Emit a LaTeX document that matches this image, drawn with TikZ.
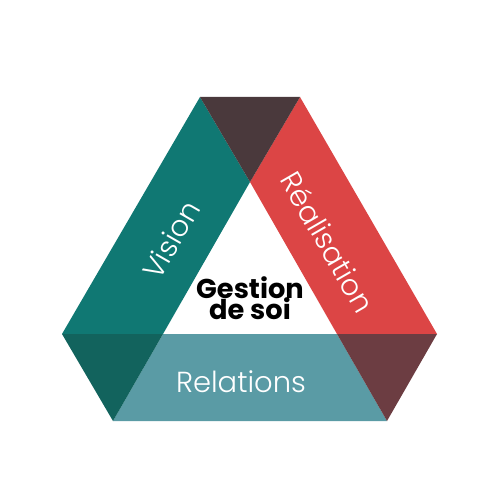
\documentclass[tikz,border=0pt]{standalone}
\usepackage{fontspec}
\setmainfont{Poppins}
\newfontfamily\thinfont{Poppins Light}
\definecolor{gTop}{HTML}{4A393C}
\definecolor{gTeal}{HTML}{107873}
\definecolor{gRed}{HTML}{DC4545}
\definecolor{gDeepTeal}{HTML}{12635D}
\definecolor{gSky}{HTML}{5A9BA5}
\definecolor{gWine}{HTML}{6C3D42}
\usetikzlibrary{positioning}

\begin{document}
\begin{tikzpicture}[x=0.02cm, y=-0.02cm,
  band/.style={text=white, font=\thinfont\fontsize{16.5}{18}\selectfont},
  core/.style={text=black, font=\bfseries\fontsize{15.5}{16}\selectfont, align=center}]
  \useasboundingbox (0,0) rectangle (500,500);
  % outer and inner corners
  \coordinate (tl) at (200,97);  \coordinate (tr) at (300,97);
  \coordinate (ol) at (62,334);  \coordinate (or) at (437,334);
  \coordinate (bl) at (113,421); \coordinate (br) at (387,421);
  \coordinate (it) at (250,182);
  \coordinate (il) at (163,334); \coordinate (ir) at (337,334);
  % bands
  \fill[gTeal] (tl) -- (it) -- (il) -- (ol) -- cycle;
  \fill[gRed]  (tr) -- (or) -- (ir) -- (it) -- cycle;
  \fill[gSky]  (il) -- (ir) -- (br) -- (bl) -- cycle;
  % corners
  \fill[gTop]      (tl) -- (tr) -- (it) -- cycle;
  \fill[gDeepTeal] (ol) -- (il) -- (bl) -- cycle;
  \fill[gWine]     (ir) -- (or) -- (br) -- cycle;
  % labels
  \node[band, rotate=60]  (vision)    at (171,240) {Vision};
  \node[band, rotate=-60] (realis)    at (328,242) {Réalisation};
  \node[band]             (relations) at (241,382) {Relations};
  \node[core]             (soi)       at (250,298) {Gestion\\[-4pt]de soi};
\end{tikzpicture}
\end{document}
